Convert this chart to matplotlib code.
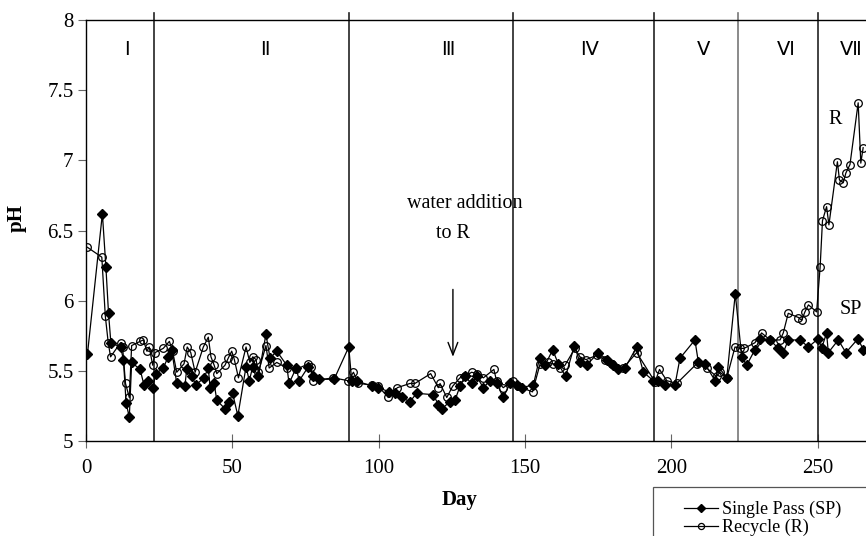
import matplotlib
matplotlib.use("Agg")
import matplotlib.pyplot as plt
from matplotlib.patches import Rectangle

# ---------------- data ----------------
sp_day = [0.5, 5.6, 6.8, 7.7, 8.5, 11.8, 12.8, 13.7, 14.8, 15.6, 18.5, 19.8, 21.3, 22.8, 23.9,
          26.4, 28.1, 29.3, 31.0, 33.8, 34.4, 36.1, 37.6, 40.3, 41.8, 42.4, 43.8, 44.7, 47.5,
          49.0, 50.1, 51.9, 54.7, 55.8, 57.0, 58.9, 61.5, 62.9, 65.2, 68.6, 69.4, 71.8, 72.9,
          76.0, 77.7, 79.7, 84.8, 89.8, 90.8, 92.5, 97.6, 99.9, 103.7, 105.6, 107.9, 110.7,
          113.0, 118.7, 120.4, 121.6, 124.4, 126.1, 127.8, 129.5, 131.8, 133.5, 135.8, 138.1,
          140.4, 142.6, 144.9, 147.2, 148.9, 152.9, 155.0, 156.9, 159.5, 161.4, 163.9, 166.9,
          168.8, 171.1, 175.1, 177.9, 180.2, 181.9, 184.2, 188.2, 190.5, 193.9, 195.6, 197.9,
          201.3, 203.0, 208.1, 209.3, 211.5, 215.0, 216.1, 219.0, 221.9, 224.1, 225.8, 228.6,
          230.4, 233.8, 236.6, 238.3, 240.0, 244.0, 246.9, 250.3, 251.4, 253.1, 253.7, 257.1,
          259.7, 263.9, 265.6]
sp_ph = [5.62, 6.62, 6.24, 5.91, 5.70, 5.67, 5.58, 5.27, 5.17, 5.56, 5.51, 5.40, 5.43, 5.38, 5.48,
         5.52, 5.60, 5.65, 5.41, 5.39, 5.51, 5.46, 5.40, 5.45, 5.52, 5.38, 5.41, 5.29, 5.23,
         5.28, 5.34, 5.18, 5.53, 5.43, 5.53, 5.46, 5.76, 5.59, 5.64, 5.54, 5.41, 5.52, 5.43,
         5.53, 5.46, 5.44, 5.44, 5.67, 5.43, 5.43, 5.39, 5.38, 5.35, 5.34, 5.31, 5.28,
         5.34, 5.33, 5.26, 5.23, 5.28, 5.29, 5.39, 5.46, 5.41, 5.46, 5.38, 5.43,
         5.41, 5.31, 5.41, 5.40, 5.38, 5.40, 5.59, 5.54, 5.65, 5.55, 5.46, 5.68,
         5.56, 5.54, 5.63, 5.58, 5.54, 5.51, 5.52, 5.67, 5.49, 5.43, 5.43, 5.40,
         5.40, 5.59, 5.72, 5.56, 5.55, 5.43, 5.53, 5.45, 6.05, 5.60, 5.54, 5.65,
         5.73, 5.72, 5.66, 5.63, 5.72, 5.72, 5.67, 5.73, 5.66, 5.77, 5.63, 5.72,
         5.63, 5.73, 5.65]

r_day = [0.5, 5.4, 6.6, 7.6, 8.4, 11.8, 12.5, 13.5, 14.8, 15.6, 18.5, 19.6, 20.8, 21.6, 22.8,
         23.6, 26.4, 28.5, 29.6, 31.0, 33.5, 34.6, 35.8, 37.3, 40.1, 41.8, 42.7, 43.8, 44.7,
         47.5, 48.6, 49.8, 50.7, 52.1, 54.7, 56.0, 57.0, 58.1, 58.9, 61.5, 62.6, 65.2, 68.6,
         71.8, 76.0, 76.8, 77.7, 84.5, 89.6, 91.4, 93.1, 97.6, 99.9, 103.3, 106.4, 110.7,
         112.4, 117.8, 120.4, 121.0, 123.3, 125.3, 127.8, 129.5, 131.8, 133.5, 135.8, 139.4,
         140.3, 142.6, 146.0, 147.7, 152.6, 155.2, 158.0, 159.7, 162.0, 163.7, 167.1, 168.8,
         170.9, 174.5, 177.4, 179.6, 183.6, 188.2, 194.5, 196.0, 198.5, 201.9, 208.7, 212.1,
         215.5, 216.7, 219.0, 221.8, 223.5, 224.9, 228.6, 230.9, 233.8, 237.2, 238.3, 240.0,
         243.5, 244.6, 245.7, 246.9, 249.7, 250.9, 251.7, 253.1, 253.9, 256.8, 257.5, 258.8,
         259.7, 261.1, 263.9, 264.8, 265.6]
r_ph = [6.38, 6.31, 5.89, 5.70, 5.60, 5.70, 5.67, 5.41, 5.31, 5.68, 5.71, 5.72, 5.64, 5.67, 5.54,
        5.63, 5.66, 5.71, 5.64, 5.49, 5.55, 5.67, 5.63, 5.49, 5.67, 5.74, 5.60, 5.54, 5.48,
        5.54, 5.59, 5.64, 5.58, 5.45, 5.67, 5.56, 5.60, 5.58, 5.49, 5.68, 5.52, 5.56, 5.52,
        5.51, 5.55, 5.53, 5.43, 5.45, 5.43, 5.49, 5.41, 5.40, 5.39, 5.31, 5.38, 5.41,
        5.41, 5.48, 5.38, 5.41, 5.31, 5.39, 5.45, 5.46, 5.49, 5.48, 5.45, 5.51,
        5.43, 5.38, 5.43, 5.39, 5.35, 5.55, 5.56, 5.55, 5.52, 5.54, 5.66, 5.60,
        5.58, 5.61, 5.58, 5.55, 5.52, 5.63, 5.42, 5.51, 5.43, 5.41, 5.55, 5.52,
        5.46, 5.49, 5.45, 5.67, 5.66, 5.66, 5.70, 5.77, 5.72, 5.72, 5.77, 5.91,
        5.88, 5.86, 5.92, 5.97, 5.92, 6.24, 6.57, 6.67, 6.54, 6.99, 6.86, 6.84,
        6.91, 6.97, 7.41, 6.98, 7.09]

phase_bounds = [23.2, 89.9, 145.8, 194.1, 222.7, 250.1]
phase_labels = ["Ⅰ", "Ⅱ", "Ⅲ", "Ⅳ", "Ⅴ", "Ⅵ", "Ⅶ"]
phase_label_x = [14.0, 61.0, 123.7, 172.0, 211.0, 239.0, 261.5]

x_ticks = [0, 50, 100, 150, 200, 250]
y_ticks = [5, 5.5, 6, 6.5, 7, 7.5, 8]
y_ticklabels = ["5", "5.5", "6", "6.5", "7", "7.5", "8"]

# ---------------- figure ----------------
W, H = 866, 536
fig = plt.figure(figsize=(W / 100, H / 100), dpi=100)
serif = ["Liberation Serif", "DejaVu Serif"]
sans = ["Liberation Sans", "DejaVu Sans"]

ax = fig.add_axes([86 / W, 1 - 441 / H, 1 - 86 / W, (441 - 20) / H])
ax.set_xlim(0, (W - 86) / 2.926)
ax.set_ylim(5, 8)

for s in ["top", "bottom", "left"]:
    ax.spines[s].set_linewidth(1.0)
    ax.spines[s].set_color("black")
ax.spines["right"].set_visible(False)

# phase boundaries
for i, xb in enumerate(phase_bounds):
    col = "#777777" if i == 4 else "#222222"
    ax.plot([xb, xb], [5, 8.05], color=col, lw=1.2, clip_on=False, zorder=2)

ax.plot(r_day, r_ph, color="black", lw=0.9, marker="o", ms=5.5, mfc="none",
        mec="black", mew=0.9, label="Recycle (R)", zorder=3)
ax.plot(sp_day, sp_ph, color="black", lw=0.9, marker="D", ms=4.8, mfc="black",
        mec="black", label="Single Pass (SP)", zorder=4)

ax.set_xticks(x_ticks)
ax.set_xticklabels([str(t) for t in x_ticks], fontfamily=serif, fontsize=15)
ax.set_yticks(y_ticks)
ax.set_yticklabels(y_ticklabels, fontfamily=serif, fontsize=15)
ax.tick_params(axis="x", direction="inout", length=10, width=0.8, color="#666666", pad=8)
ax.tick_params(axis="y", direction="out", length=6, width=0.8, color="#666666", pad=3)

ax.set_xlabel("Day", fontfamily=serif, fontsize=15, fontweight="bold", labelpad=8)
ax.xaxis.set_label_coords((460 - 86) / (W - 86), -(490 - 441) / (441 - 20))
ax.set_ylabel("pH", fontfamily=serif, fontsize=15, fontweight="bold")
ax.yaxis.set_label_coords(-(86 - 27) / (W - 86), (441 - 218) / (441 - 20))

for lab, xl in zip(phase_labels, phase_label_x):
    ax.text(xl, 7.78, lab, ha="center", va="center", fontsize=14, fontfamily=sans)

ax.text(129.5, 6.695, "water addition", ha="center", va="center", fontsize=14.5, fontfamily=serif)
ax.text(125.3, 6.48, "to R", ha="center", va="center", fontsize=14.5, fontfamily=serif)
ax.annotate("", xy=(125.4, 5.58), xytext=(125.4, 6.10),
            arrowprops=dict(arrowstyle="->,head_length=0.9,head_width=0.35", lw=1.0, color="black"))
ax.text(256.0, 7.29, "R", ha="center", va="center", fontsize=14.5, fontfamily=serif)
ax.text(261.5, 5.94, "SP", ha="center", va="center", fontsize=14.5, fontfamily=serif)

# legend box
fig.patches.append(Rectangle((653 / W, -0.05), 0.3, 0.05 + (536 - 487) / H,
                             transform=fig.transFigure, fill=False,
                             edgecolor="#555555", lw=0.9))
h, l = ax.get_legend_handles_labels()
leg = fig.legend([h[1], h[0]], [l[1], l[0]], loc="upper left",
                 bbox_to_anchor=(673 / W, 1 - 490 / H), frameon=False,
                 prop={"family": serif, "size": 13}, handlelength=1.9,
                 handletextpad=0.2, labelspacing=0.05, borderpad=0.1, markerscale=0.8)

fig.savefig("out.png", dpi=100)
